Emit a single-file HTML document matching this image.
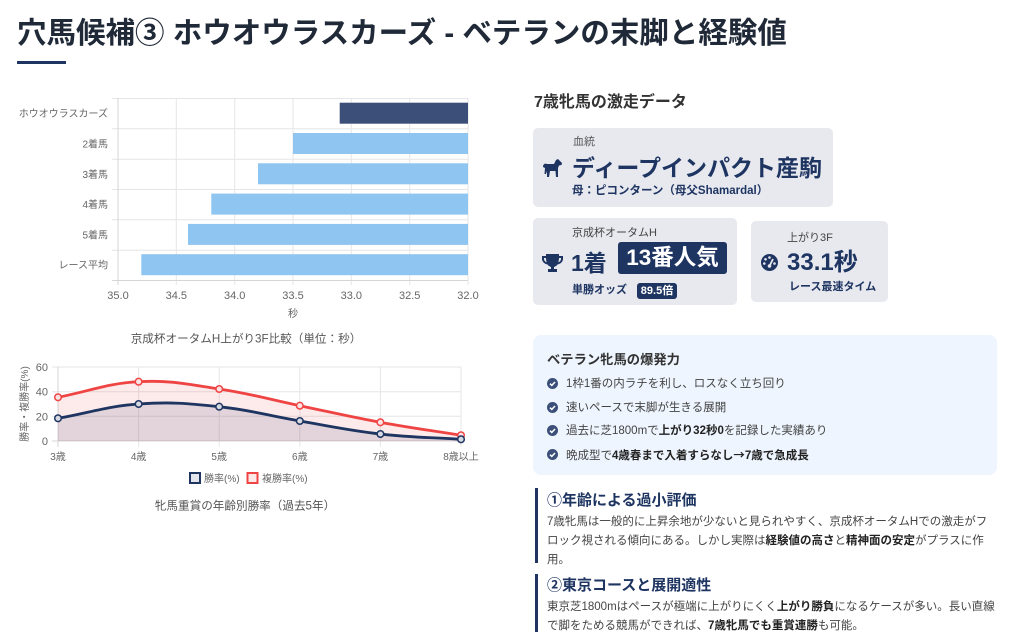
<!DOCTYPE html>
<html><head><meta charset="utf-8">
<style>
*{margin:0;padding:0;box-sizing:border-box}
body{width:1024px;height:640px;background:#fff;position:relative;overflow:hidden;font-family:"Liberation Sans","Noto Sans CJK JP",sans-serif;color:#333}
.a{position:absolute;white-space:nowrap}
.b{font-weight:bold}
.navy{color:#1e3461}
.box{position:absolute;background:#e7e9ef;border-radius:5px}
.tag{position:absolute;background:#1e3461;color:#fff;border-radius:3px;font-weight:bold;text-align:center}
.li{position:absolute;left:566px;font-size:11.5px;line-height:16px;color:#444;white-space:nowrap}
.ck{position:absolute;left:547px;width:11px;height:11px}
.p{position:absolute;left:547px;width:450px;font-size:11.5px;line-height:19px;color:#444}
.p b{color:#222}
.bar{position:absolute;left:535px;width:3px;background:#1e3461}
.cjk{font-family:"Noto Sans CJK JP",sans-serif}
</style></head><body>

<div class="a b" style="left:17px;top:19px;font-size:29.5px;line-height:30px;color:#1f2937">穴馬候補③ ホウオウラスカーズ - ベテランの末脚と経験値</div>
<div class="a" style="left:17px;top:61px;width:49px;height:3px;background:#1e3461"></div>

<svg class="a" style="left:0;top:0" width="500" height="640" font-family="Liberation Sans, Noto Sans CJK JP, sans-serif">
 <!-- bar chart grid -->
 <g stroke="#e6e6e6" stroke-width="1">
  <line x1="176.3" y1="98" x2="176.3" y2="285"/>
  <line x1="234.7" y1="98" x2="234.7" y2="285"/>
  <line x1="293" y1="98" x2="293" y2="285"/>
  <line x1="351.3" y1="98" x2="351.3" y2="285"/>
  <line x1="409.7" y1="98" x2="409.7" y2="285"/>
  <line x1="468" y1="98" x2="468" y2="285"/>
  <line x1="112" y1="98.5" x2="468" y2="98.5"/>
  <line x1="112" y1="128.8" x2="468" y2="128.8"/>
  <line x1="112" y1="159.2" x2="468" y2="159.2"/>
  <line x1="112" y1="189.5" x2="468" y2="189.5"/>
  <line x1="112" y1="219.8" x2="468" y2="219.8"/>
  <line x1="112" y1="250.2" x2="468" y2="250.2"/>
 </g>
 <line x1="118" y1="98" x2="118" y2="285" stroke="#d6d6d6"/>
 <line x1="112" y1="280.5" x2="468" y2="280.5" stroke="#d6d6d6"/>
 <!-- bars -->
 <rect x="339.7" y="102.7" width="128.3" height="21" fill="#3c4f78"/>
 <rect x="293" y="133" width="175" height="21" fill="#8fc5f1"/>
 <rect x="258" y="163.3" width="210" height="21" fill="#8fc5f1"/>
 <rect x="211.3" y="193.6" width="256.7" height="21" fill="#8fc5f1"/>
 <rect x="188" y="223.9" width="280" height="21" fill="#8fc5f1"/>
 <rect x="141.3" y="254.2" width="326.7" height="21" fill="#8fc5f1"/>
 <g font-size="10" fill="#666" text-anchor="end">
  <text x="108" y="117.2">ホウオウラスカーズ</text>
  <text x="108" y="147.5">2着馬</text>
  <text x="108" y="177.8">3着馬</text>
  <text x="108" y="208.1">4着馬</text>
  <text x="108" y="238.4">5着馬</text>
  <text x="108" y="268.7">レース平均</text>
 </g>
 <g font-size="11" fill="#666" text-anchor="middle">
  <text x="118" y="299">35.0</text>
  <text x="176.3" y="299">34.5</text>
  <text x="234.7" y="299">34.0</text>
  <text x="293" y="299">33.5</text>
  <text x="351.3" y="299">33.0</text>
  <text x="409.7" y="299">32.5</text>
  <text x="468" y="299">32.0</text>
  <text x="293" y="317" font-size="10">秒</text>
 </g>
 <text x="246" y="342.5" font-size="11.6" fill="#555" text-anchor="middle">京成杯オータムH上がり3F比較（単位：秒）</text>

 <!-- line chart grid -->
 <g stroke="#e6e6e6" stroke-width="1">
  <line x1="52" y1="367" x2="461" y2="367"/>
  <line x1="52" y1="391.7" x2="461" y2="391.7"/>
  <line x1="52" y1="416.3" x2="461" y2="416.3"/>
  <line x1="138.6" y1="367" x2="138.6" y2="447"/>
  <line x1="219.2" y1="367" x2="219.2" y2="447"/>
  <line x1="299.8" y1="367" x2="299.8" y2="447"/>
  <line x1="380.4" y1="367" x2="380.4" y2="447"/>
  <line x1="461" y1="367" x2="461" y2="447"/>
 </g>
 <line x1="58" y1="367" x2="58" y2="447" stroke="#d6d6d6"/>
 <line x1="52" y1="441" x2="461" y2="441" stroke="#d6d6d6"/>
 <g font-size="11" fill="#666" text-anchor="end">
  <text x="48" y="371">60</text>
  <text x="48" y="395.7">40</text>
  <text x="48" y="420.3">20</text>
  <text x="48" y="445">0</text>
 </g>
 <text transform="translate(28,404) rotate(-90)" font-size="10" fill="#666" text-anchor="middle">勝率・複勝率(%)</text>
 <!-- fills -->
 <path d="M58,397.3 C90.2,391.1 106.4,383.4 138.6,381.7 C170.8,380 187,384.2 219.2,389 C251.4,393.8 267.6,399 299.8,405.7 C332,412.4 348.2,416.4 380.4,422.3 C412.6,428.2 428.8,430.1 461,435.3 L461,441 L58,441 Z" fill="rgba(239,68,68,0.11)"/>
 <path d="M58,418.3 C90.2,412.6 106.4,406.3 138.6,404 C170.8,401.7 187,403.3 219.2,406.7 C251.4,410.1 267.6,415.5 299.8,421 C332,426.5 348.2,430.3 380.4,434 C412.6,437.7 428.8,437.2 461,439.3 L461,441 L58,441 Z" fill="rgba(30,58,107,0.12)"/>
 <!-- lines -->
 <path d="M58,397.3 C90.2,391.1 106.4,383.4 138.6,381.7 C170.8,380 187,384.2 219.2,389 C251.4,393.8 267.6,399 299.8,405.7 C332,412.4 348.2,416.4 380.4,422.3 C412.6,428.2 428.8,430.1 461,435.3" fill="none" stroke="#ef4444" stroke-width="2.8"/>
 <path d="M58,418.3 C90.2,412.6 106.4,406.3 138.6,404 C170.8,401.7 187,403.3 219.2,406.7 C251.4,410.1 267.6,415.5 299.8,421 C332,426.5 348.2,430.3 380.4,434 C412.6,437.7 428.8,437.2 461,439.3" fill="none" stroke="#1e3461" stroke-width="2.8"/>
 <g fill="#fbe3e3" stroke="#ef4444" stroke-width="1.5">
  <circle cx="58" cy="397.3" r="3.3"/><circle cx="138.6" cy="381.7" r="3.3"/><circle cx="219.2" cy="389" r="3.3"/>
  <circle cx="299.8" cy="405.7" r="3.3"/><circle cx="380.4" cy="422.3" r="3.3"/><circle cx="461" cy="435.3" r="3.3"/>
 </g>
 <g fill="#d6d9e2" stroke="#1e3461" stroke-width="1.5">
  <circle cx="58" cy="418.3" r="3.3"/><circle cx="138.6" cy="404" r="3.3"/><circle cx="219.2" cy="406.7" r="3.3"/>
  <circle cx="299.8" cy="421" r="3.3"/><circle cx="380.4" cy="434" r="3.3"/><circle cx="461" cy="439.3" r="3.3"/>
 </g>
 <g font-size="10" fill="#666" text-anchor="middle">
  <text x="58" y="460">3歳</text>
  <text x="138.6" y="460">4歳</text>
  <text x="219.2" y="460">5歳</text>
  <text x="299.8" y="460">6歳</text>
  <text x="380.4" y="460">7歳</text>
  <text x="461" y="460">8歳以上</text>
 </g>
 <rect x="190" y="473" width="10" height="10" fill="#e3e5ec" stroke="#1e3461" stroke-width="2"/>
 <text x="204" y="482" font-size="10" fill="#666">勝率(%)</text>
 <rect x="247.5" y="473" width="10" height="10" fill="#fde8e8" stroke="#ef4444" stroke-width="2"/>
 <text x="262" y="482" font-size="10" fill="#666">複勝率(%)</text>
 <text x="245" y="509.5" font-size="11.6" fill="#555" text-anchor="middle">牝馬重賞の年齢別勝率（過去5年）</text>
</svg>

<!-- right column -->
<div class="a b" style="left:534px;top:95px;font-size:16px;line-height:16px;color:#333">7歳牝馬の激走データ</div>

<div class="box" style="left:533px;top:128px;width:300px;height:79px"></div>
<div class="a" style="left:573px;top:136px;font-size:11px;line-height:12px;color:#555">血統</div>
<svg class="a" style="left:542px;top:158px" width="21" height="21" viewBox="0 0 21 21">
 <path fill="#1e3461" d="M1,9 C1,6 3,5 5,6 L12,6 L14,2 L16,1 L20,5 L19.5,7 L17,7.5 L16,10 L16,19 L14,19 L13.5,13 L8,13 L7,19 L5,19 L5,13 L4,16 L2.5,16 L3,10 Z"/>
</svg>
<div class="a b navy" style="left:572px;top:156px;font-size:23px;line-height:24px">ディープインパクト産駒</div>
<div class="a b navy" style="left:572px;top:185px;font-size:11.5px;line-height:12px">母：ピコンターン（母父Shamardal）</div>

<div class="box" style="left:533px;top:218px;width:204px;height:87px"></div>
<div class="a" style="left:572px;top:227px;font-size:11px;line-height:12px;color:#444">京成杯オータムH</div>
<svg class="a" style="left:542px;top:254px" width="21" height="18" viewBox="0 0 21 18">
 <path fill="#1e3461" d="M4,0 L17,0 L17,2 L21,2 L21,5 C21,8 18,10 15.5,10.5 C14.5,12 13,12.5 12,13 L12,15 L15,15 L15,18 L6,18 L6,15 L9,15 L9,13 C8,12.5 6.5,12 5.5,10.5 C3,10 0,8 0,5 L0,2 L4,2 Z M2,4 L2,5 C2,6.5 3.5,8 4.7,8.3 C4.3,7 4,5.5 4,4 Z M19,4 L17,4 C17,5.5 16.7,7 16.3,8.3 C17.5,8 19,6.5 19,5 Z"/>
</svg>
<div class="a b navy" style="left:571px;top:251px;font-size:23px;line-height:24px">1着</div>
<div class="tag" style="left:618px;top:242px;width:109px;height:32px;font-size:22.5px;line-height:32px">13番人気</div>
<div class="a b navy" style="left:572px;top:284px;font-size:11px;line-height:12px">単勝オッズ</div>
<div class="tag" style="left:637px;top:283px;width:40px;height:16px;font-size:11px;line-height:16px">89.5倍</div>

<div class="box" style="left:751px;top:221px;width:137px;height:81px"></div>
<div class="a" style="left:787px;top:232px;font-size:11px;line-height:12px;color:#444">上がり3F</div>
<svg class="a" style="left:761px;top:254px" width="17" height="17" viewBox="0 0 17 17">
 <circle cx="8.5" cy="8.5" r="8.5" fill="#1e3461"/>
 <circle cx="8.5" cy="3.5" r="1.3" fill="#e7e9ef"/>
 <circle cx="4.5" cy="5.3" r="1.3" fill="#e7e9ef"/>
 <circle cx="3.3" cy="9.5" r="1.3" fill="#e7e9ef"/>
 <circle cx="13.5" cy="9.5" r="1.3" fill="#e7e9ef"/>
 <path d="M8.5,12 L12,5" stroke="#e7e9ef" stroke-width="1.8"/>
 <circle cx="8.5" cy="12" r="1.8" fill="#e7e9ef"/>
</svg>
<div class="a b navy" style="left:787px;top:251px;font-size:24px;line-height:24px">33.1秒</div>
<div class="a b navy" style="left:789px;top:281px;font-size:11px;line-height:12px">レース最速タイム</div>

<div class="a" style="left:533px;top:335px;width:464px;height:140px;background:#eef5fe;border-radius:8px"></div>
<div class="a b" style="left:547px;top:352px;font-size:13.3px;line-height:16px;color:#333">ベテラン牝馬の爆発力</div>
<svg class="ck" style="top:378px" viewBox="0 0 11 11"><circle cx="5.5" cy="5.5" r="5.5" fill="#3c4f78"/><path d="M3,5.7 L4.8,7.4 L8,4" fill="none" stroke="#fff" stroke-width="1.5"/></svg>
<div class="li" style="top:376px">1枠1番の内ラチを利し、ロスなく立ち回り</div>
<svg class="ck" style="top:402px" viewBox="0 0 11 11"><circle cx="5.5" cy="5.5" r="5.5" fill="#3c4f78"/><path d="M3,5.7 L4.8,7.4 L8,4" fill="none" stroke="#fff" stroke-width="1.5"/></svg>
<div class="li" style="top:400px">速いペースで末脚が生きる展開</div>
<svg class="ck" style="top:425px" viewBox="0 0 11 11"><circle cx="5.5" cy="5.5" r="5.5" fill="#3c4f78"/><path d="M3,5.7 L4.8,7.4 L8,4" fill="none" stroke="#fff" stroke-width="1.5"/></svg>
<div class="li" style="top:423px">過去に芝1800mで<b style="color:#222">上がり32秒0</b>を記録した実績あり</div>
<svg class="ck" style="top:449px" viewBox="0 0 11 11"><circle cx="5.5" cy="5.5" r="5.5" fill="#3c4f78"/><path d="M3,5.7 L4.8,7.4 L8,4" fill="none" stroke="#fff" stroke-width="1.5"/></svg>
<div class="li" style="top:447px">晩成型で<b style="color:#222">4歳春まで入着すらなし<span class="cjk">→</span>7歳で急成長</b></div>

<div class="bar" style="top:488px;height:75px"></div>
<div class="a b navy" style="left:547px;top:492px;font-size:15px;line-height:18px">①年齢による過小評価</div>
<div class="p" style="top:513px">7歳牝馬は一般的に上昇余地が少ないと見られやすく、京成杯オータムHでの激走がフロック視される傾向にある。しかし実際は<b>経験値の高さ</b>と<b>精神面の安定</b>がプラスに作用。</div>

<div class="bar" style="top:574px;height:58px"></div>
<div class="a b navy" style="left:547px;top:577px;font-size:15px;line-height:18px">②東京コースと展開適性</div>
<div class="p" style="top:598px">東京芝1800mはペースが極端に上がりにくく<b>上がり勝負</b>になるケースが多い。長い直線で脚をためる競馬ができれば、<b>7歳牝馬でも重賞連勝</b>も可能。</div>

</body></html>
